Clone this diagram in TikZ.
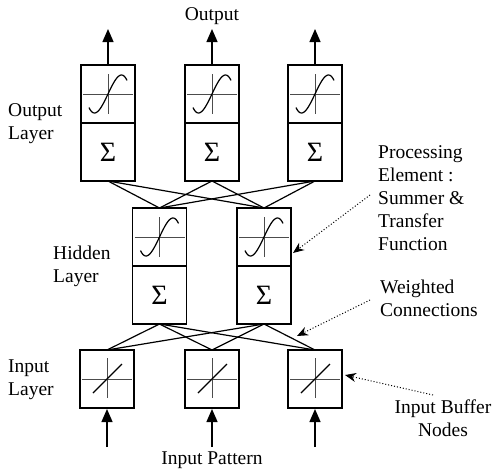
\documentclass[tikz,border=0pt]{standalone}
\usepackage{fontspec}
\setmainfont{Liberation Serif}
\usetikzlibrary{arrows.meta}
\tikzset{
  cell/.style={draw, line width=1.7pt, outer sep=0pt, minimum width=54pt, minimum height=58pt, inner sep=0pt, font=\fontsize{28}{28}\selectfont},
  conn/.style={line width=1.2pt},
  axis/.style={line width=0.8pt, black!70},
  curve/.style={line width=1.2pt},
  flow/.style={line width=1.3pt, -{Triangle[length=13pt,width=11pt]}},
  pointer/.style={dotted, line width=1pt, -{Stealth[length=11pt,width=9pt]}},
  lbl/.style={font=\fontsize{19.5}{23}\selectfont, inner sep=0pt, align=left},
}
\begin{document}
\begin{tikzpicture}[x=1pt,y=-1pt]
\useasboundingbox (0,0) rectangle (492,471);
% output layer
\node[cell] (o1f) at (108,94) {};
\node[cell] (o2f) at (212,94) {};
\node[cell] (o3f) at (315,94) {};
\node[cell,anchor=north] (o1s) at (o1f.south) {Σ};
\node[cell,anchor=north] (o2s) at (o2f.south) {Σ};
\node[cell,anchor=north] (o3s) at (o3f.south) {Σ};
% hidden layer
\node[cell] (h1f) at (159.5,237) {};
\node[cell] (h2f) at (264,237) {};
\node[cell,anchor=north] (h1s) at (h1f.south) {Σ};
\node[cell,anchor=north] (h2s) at (h2f.south) {Σ};
% input layer
\node[cell] (i1) at (107,379) {};
\node[cell] (i2) at (212,379) {};
\node[cell] (i3) at (315,379) {};
% sigmoid symbols
\foreach \n in {o1f,o2f,o3f,h1f,h2f}{
  \draw[axis] ([xshift=-25pt]\n.center) -- ([xshift=25pt]\n.center);
  \draw[axis] ([yshift=20pt]\n.center) -- ([yshift=-20pt]\n.center);
  \begin{scope}[shift={(\n.center)}]
    \draw[curve] plot[domain=-19:19,samples=50,smooth] (\x,{-(2.11*\x-0.003858*\x*\x*\x)});
  \end{scope}
}
% linear symbols
\foreach \n in {i1,i2,i3}{
  \draw[axis] ([xshift=-25pt]\n.center) -- ([xshift=25pt]\n.center);
  \draw[axis] ([yshift=21pt]\n.center) -- ([yshift=-19pt]\n.center);
  \draw[curve] ([shift={(-14pt,-14pt)}]\n.center) -- ([shift={(15pt,15pt)}]\n.center);
}
% weighted connections
\foreach \a in {o1s,o2s,o3s}{\foreach \b in {h1f,h2f}{\draw[conn] (\a.south) -- (\b.north);}}
\foreach \a in {i1,i2,i3}{\foreach \b in {h1s,h2s}{\draw[conn] (\a.north) -- (\b.south);}}
% output arrows
\coordinate (t1) at (108,29);
\coordinate (t2) at (212,29);
\coordinate (t3) at (315,29);
\draw[flow] (o1f.north) -- (t1);
\draw[flow] (o2f.north) -- (t2);
\draw[flow] (o3f.north) -- (t3);
% input arrows
\coordinate (b1) at (107,447);
\coordinate (b2) at (212,447);
\coordinate (b3) at (315,447);
\draw[flow] (b1) -- ([yshift=-1pt]i1.south);
\draw[flow] (b2) -- ([yshift=-1pt]i2.south);
\draw[flow] (b3) -- ([yshift=-1pt]i3.south);
% texts
\node[lbl] (tout) at (212,16) {Output};
\node[lbl] (tin) at (212,460) {Input Pattern};
\node[lbl,anchor=west] (lout) at (8,123.5) {Output\\Layer};
\node[lbl,anchor=west] (lhid) at (53,266) {Hidden\\Layer};
\node[lbl,anchor=west] (linp) at (8,380) {Input\\Layer};
\node[lbl,anchor=west] (lpe) at (378,198) {Processing\\Element :\\Summer \&\\Transfer\\Function};
\node[lbl,anchor=west] (lwc) at (380,298.5) {Weighted\\Connections};
\node[lbl,align=center] (lib) at (443,418) {Input Buffer\\Nodes};
% pointers
\coordinate (p1s) at (370,195);
\coordinate (p1e) at (293,253);
\coordinate (p2s) at (370,300);
\coordinate (p2e) at (297,336);
\coordinate (p3s) at (433,395);
\coordinate (p3e) at (345,375);
\draw[pointer] (p1s) -- (p1e);
\draw[pointer] (p2s) -- (p2e);
\draw[pointer] (p3s) -- (p3e);
\end{tikzpicture}
\end{document}
